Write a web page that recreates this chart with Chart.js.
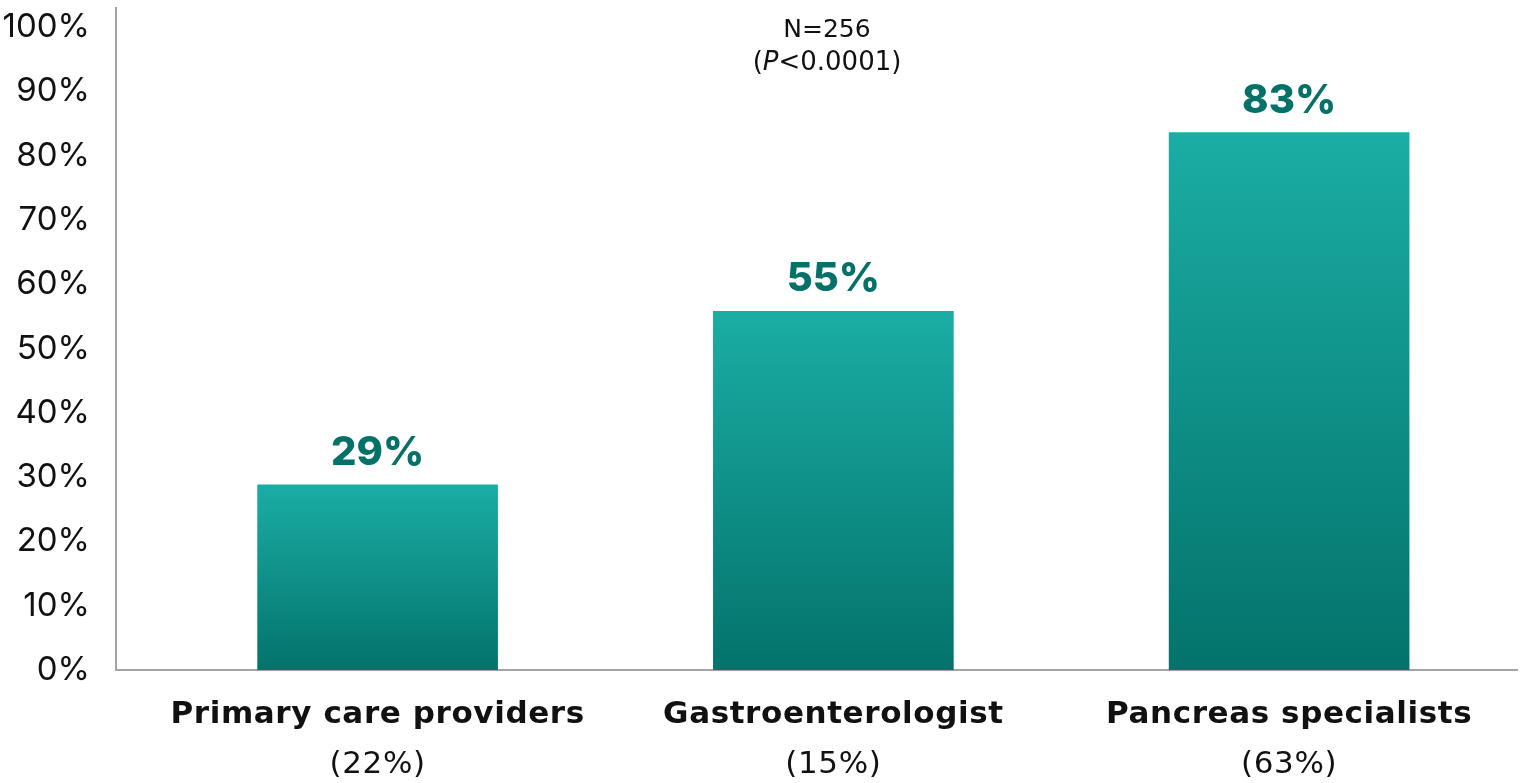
<!DOCTYPE html>
<html lang="en">
<head>
    <meta charset="UTF-8">
    <title>Bar chart</title>
    <script src="https://cdn.jsdelivr.net/npm/chart.js"></script>
    <style>
        html, body { margin: 0; padding: 0; background: #fff; }
        #wrap { width: 1520px; height: 783px; }
    </style>
</head>
<body>
    <div id="wrap"><canvas id="grafico"></canvas></div>

<script>
    // dados
    const categorias = ["Primary care providers", "Gastroenterologist", "Pancreas specialists"];
    const participacao = ["(22%)", "(15%)", "(63%)"];
    const valores = [28.8, 55.8, 83.6];
    const rotulosValores = ["29%", "55%", "83%"];
    const ticksY = [0, 10, 20, 30, 40, 50, 60, 70, 80, 90, 100];
    const anotacao = ["N=256", "(P<0.0001)"];

    const fonte = "Inter, 'Noto Sans', sans-serif";
    const fonteLarga = "'DejaVu Sans', sans-serif";
    const corEscura = '#037168';

    // gradiente de cada barra (claro em cima, escuro embaixo)
    function corBarra(context) {
        const chart = context.chart;
        if (!chart.chartArea) return '#12968d';
        const y = chart.scales.y;
        const topo = y.getPixelForValue(context.raw.y);
        const base = y.getPixelForValue(0);
        const g = chart.ctx.createLinearGradient(0, topo, 0, base);
        g.addColorStop(0, '#1bada4');
        g.addColorStop(1, '#03736b');
        return g;
    }

    // rótulos acima das barras, nomes das categorias e anotação N=256
    const pluginTextos = {
        id: 'textos',
        afterDraw(chart) {
            const ctx = chart.ctx;
            const meta = chart.getDatasetMeta(0);
            const x = chart.scales.x;
            ctx.save();
            ctx.textAlign = 'center';
            ctx.textBaseline = 'alphabetic';

            // valores
            ctx.fillStyle = corEscura;
            ctx.font = `800 40px ${fonte}`;
            meta.data.forEach((bar, i) => {
                ctx.fillText(rotulosValores[i], bar.x, bar.y - 20);
            });

            // categorias
            ctx.letterSpacing = '0.6px';
            categorias.forEach((c, i) => {
                const px = x.getPixelForValue(i);
                ctx.fillStyle = '#111';
                ctx.font = `bold 31px ${fonteLarga}`;
                ctx.fillText(c, px, 723);
                ctx.font = `normal 31px ${fonteLarga}`;
                ctx.fillText(participacao[i], px, 773);
            });
            ctx.letterSpacing = '0px';

            // anotação
            ctx.fillStyle = '#111';
            ctx.font = `normal 25px ${fonteLarga}`;
            ctx.fillText(anotacao[0], 827, 37);
            const partes = [["(", "normal"], ["P", "italic"], [anotacao[1].slice(2), "normal"]];
            let total = 0;
            partes.forEach(p => {
                ctx.font = `${p[1]} 26px ${fonteLarga}`;
                total += ctx.measureText(p[0]).width;
            });
            let cx = 827 - total / 2;
            ctx.textAlign = 'left';
            partes.forEach(p => {
                ctx.font = `${p[1]} 26px ${fonteLarga}`;
                ctx.fillText(p[0], cx, 70);
                cx += ctx.measureText(p[0]).width;
            });
            ctx.restore();
        }
    };

    const dados = {
        datasets: [{
            data: categorias.map((c, i) => ({ x: i, y: valores[i] })),
            backgroundColor: corBarra,
            borderWidth: 0,
            barThickness: 240
        }]
    };

    const config = {
        type: 'bar',
        data: dados,
        options: {
            responsive: true,
            maintainAspectRatio: false,
            animation: false,
            layout: {
                padding: { top: 8, right: 3, bottom: 113, left: 0 }
            },
            plugins: {
                legend: { display: false },
                tooltip: { enabled: false }
            },
            scales: {
                x: {
                    type: 'linear',
                    offset: false,
                    min: -0.574,
                    max: 2.5,
                    grid: { display: false },
                    border: { display: true, color: '#a3a3a3', width: 2 },
                    ticks: { display: false },
                    afterFit: (scale) => {
                        scale.height = 0;
                        scale.paddingLeft = 0;
                        scale.paddingRight = 0;
                    }
                },
                y: {
                    min: 0,
                    max: 103,
                    grid: { display: false, drawTicks: false },
                    border: { display: true, color: '#a3a3a3', width: 2 },
                    afterBuildTicks: (scale) => {
                        scale.ticks = ticksY.map(v => ({ value: v }));
                    },
                    afterFit: (scale) => {
                        scale.width = 116;
                        scale.paddingTop = 0;
                        scale.paddingBottom = 0;
                    },
                    ticks: {
                        padding: 26,
                        color: '#111',
                        font: { family: fonte, size: 33, weight: '400' },
                        callback: (v) => v + '%'
                    }
                }
            }
        },
        plugins: [pluginTextos]
    };

    new Chart(document.getElementById('grafico'), config);
</script>
</body>
</html>
